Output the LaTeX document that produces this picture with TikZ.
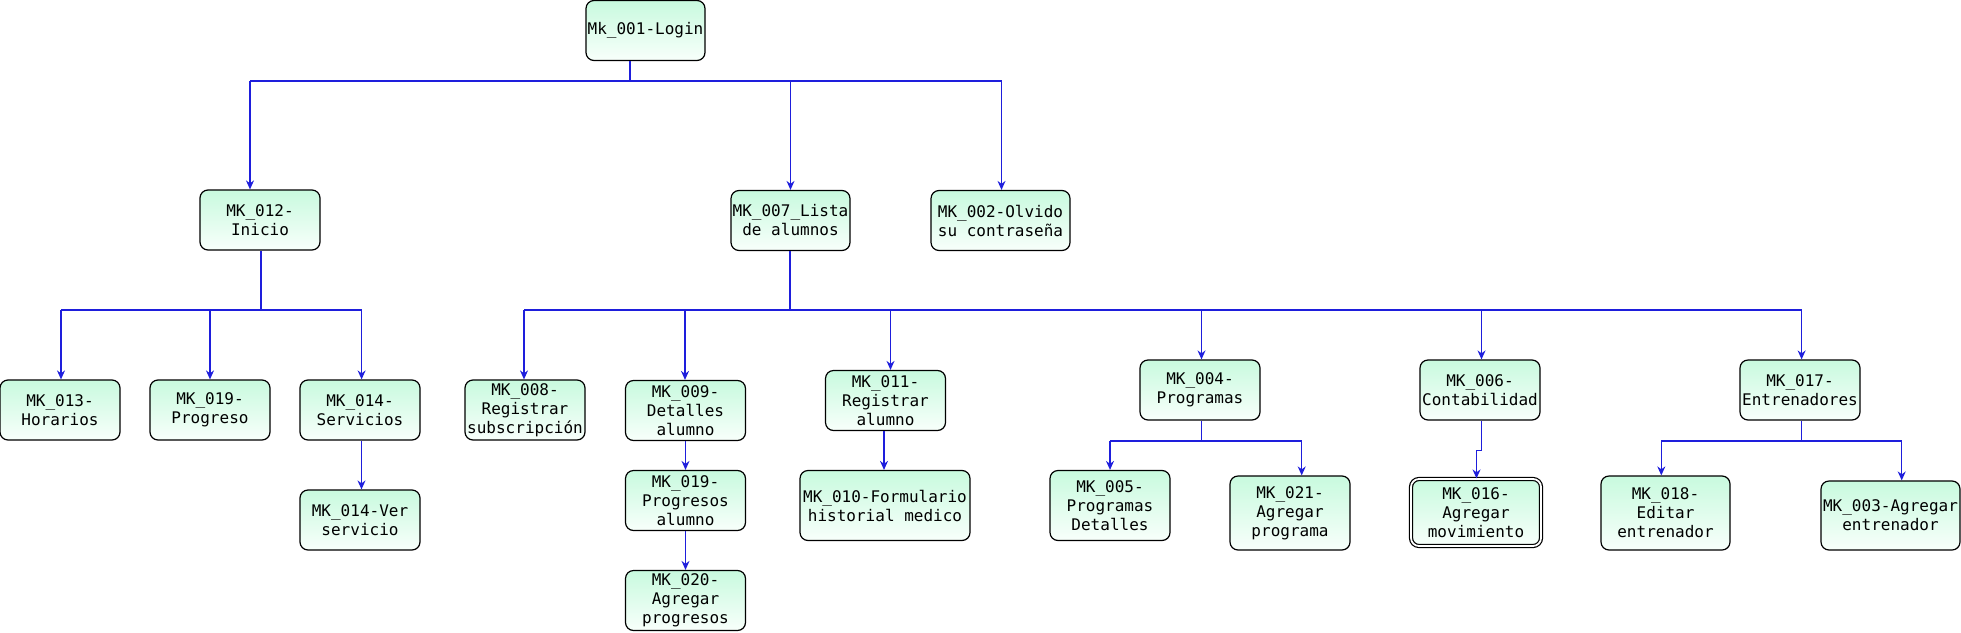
\documentclass[tikz,border=0pt]{standalone}
\usepackage{fontspec}
\newfontfamily\mono{DejaVu Sans Mono}
\usepackage{tikz}
\usetikzlibrary{arrows.meta}
\definecolor{mintTop}{RGB}{200,250,222}
\definecolor{mintBot}{RGB}{248,255,251}
\definecolor{linkblue}{RGB}{30,30,220}
\tikzset{
	screen/.style={draw=black, line width=1.2pt, rounded corners=8pt, top color=mintTop, bottom color=mintBot,
		minimum width=120pt, minimum height=60pt, inner sep=0pt, align=center, font=\mono\fontsize{16}{19}\selectfont},
	link/.style={draw=linkblue, line width=1.2pt},
	arr/.style={link, -{Stealth[length=9pt,width=8pt]}}
}

\begin{document}
\begin{tikzpicture}[x=1pt,y=-1pt]
	\useasboundingbox (0,0) rectangle (1961,632);
            \node[screen, minimum width=119pt] (login) at (645.5,30.5) {Mk\_001-Login};

            \node[screen] (inicio) at (260,220) {MK\_012-\\Inicio};
            \node[screen, minimum width=119pt] (lista) at (790.5,220.5) {MK\_007\_Lista\\de alumnos};
            \node[screen, minimum width=139pt] (olvido) at (1000.5,220.5) {MK\_002-Olvido\\su contraseña};

            \node[screen] (horarios) at (60,410) {MK\_013-\\Horarios};
            \node[screen] (progreso) at (210,410) {MK\_019-\\Progreso};
            \node[screen] (servicios) at (360,410) {MK\_014-\\Servicios};
            \node[screen] (verserv) at (360,520) {MK\_014-Ver\\servicio};

            \node[screen] (subscr) at (525,410) {MK\_008-\\Registrar\\subscripción};
            \node[screen] (detalles) at (685.5,410.5) {MK\_009-\\Detalles\\alumno};
            \node[screen] (progresos) at (685.5,500.5) {MK\_019-\\Progresos\\alumno};
            \node[screen] (agrprogreso) at (685.5,600.5) {MK\_020-\\Agregar\\progresos};
            \node[screen] (registrar) at (885.5,400.5) {MK\_011-\\Registrar\\alumno};
            \node[screen, minimum width=170pt, minimum height=70pt] (formulario) at (885,505.5) {MK\_010-Formulario\\historial medico};

            \node[screen] (programas) at (1200,390) {MK\_004-\\Programas};
            \node[screen, minimum height=70pt] (progdet) at (1110,505.5) {MK\_005-\\Programas\\Detalles};
            \node[screen, minimum height=74pt] (agrprograma) at (1290,513) {MK\_021-\\Agregar\\programa};

            \node[screen] (contab) at (1480,390) {MK\_006-\\Contabilidad};
            \node[screen, minimum width=130pt, minimum height=67pt, double=white, double distance=1.8pt] (movim) at (1476,512.5) {MK\_016-\\Agregar\\movimiento};

            \node[screen] (entren) at (1800,390) {MK\_017-\\Entrenadores};
            \node[screen, minimum width=129pt, minimum height=74pt] (editar) at (1665.5,513) {MK\_018-\\Editar\\entrenador};
            \node[screen, minimum width=139pt, minimum height=69pt] (agrentren) at (1890.5,515.5) {MK\_003-Agregar\\entrenador};

            \coordinate (j1) at (630,81);
            \draw[link] ([xshift=-15.5pt]login.south) -- (j1);
            \draw[link] ([xshift=-10pt]inicio.north |- j1) -- ([xshift=1pt]olvido.north |- j1);
            \foreach \n/\dx in {inicio/-10, lista/0, olvido/1}{
              \draw[arr] ([xshift=\dx pt]\n.north |- j1) -- ([xshift=\dx pt]\n.north);
            }

            \coordinate (j2) at (261,310);
            \draw[link] (inicio.south -| j2) -- (j2);
            \draw[link] ([xshift=1pt]horarios.north |- j2) -- ([xshift=1.6pt]servicios.north |- j2);
            \foreach \n/\dx in {horarios/1, progreso/0, servicios/1.6}{
              \draw[arr] ([xshift=\dx pt]\n.north |- j2) -- ([xshift=\dx pt]\n.north);
            }
            \draw[arr] ([xshift=1.5pt]servicios.south) -- ([xshift=1.5pt]verserv.north);

            \coordinate (j3) at (790,310);
            \draw[link] (lista.south -| j3) -- (j3);
            \draw[link] ([xshift=-1pt]subscr.north |- j3) -- ([xshift=1.6pt]entren.north |- j3);
            \foreach \n/\dx in {subscr/-1, detalles/-0.5, registrar/5, programas/1.5, contab/1.5, entren/1.6}{
              \draw[arr] ([xshift=\dx pt]\n.north |- j3) -- ([xshift=\dx pt]\n.north);
            }
            \draw[arr] (detalles.south) -- (progresos.north);
            \draw[arr] (progresos.south) -- (agrprogreso.north);
            \draw[arr] ([xshift=-1.5pt]registrar.south) -- ([xshift=-1.5pt]registrar.south |- formulario.north);

            \coordinate (j4) at (1201.7,441);
            \draw[link] (programas.south -| j4) -- (j4);
            \draw[link] (progdet.north |- j4) -- ([xshift=11.7pt]agrprograma.north |- j4);
            \foreach \n/\dx in {progdet/0, agrprograma/11.7}{
              \draw[arr] ([xshift=\dx pt]\n.north |- j4) -- ([xshift=\dx pt]\n.north);
            }
            \draw[arr] ([xshift=1.5pt]contab.south) -- ++(0,30) -| ([xshift=0.5pt]movim.north);

            \coordinate (j5) at (1801.7,441);
            \draw[link] (entren.south -| j5) -- (j5);
            \draw[link] ([xshift=-4.2pt]editar.north |- j5) -- ([xshift=11.2pt]agrentren.north |- j5);
            \foreach \n/\dx in {editar/-4.2, agrentren/11.2}{
              \draw[arr] ([xshift=\dx pt]\n.north |- j5) -- ([xshift=\dx pt]\n.north);
            }
\end{tikzpicture}
\end{document}
